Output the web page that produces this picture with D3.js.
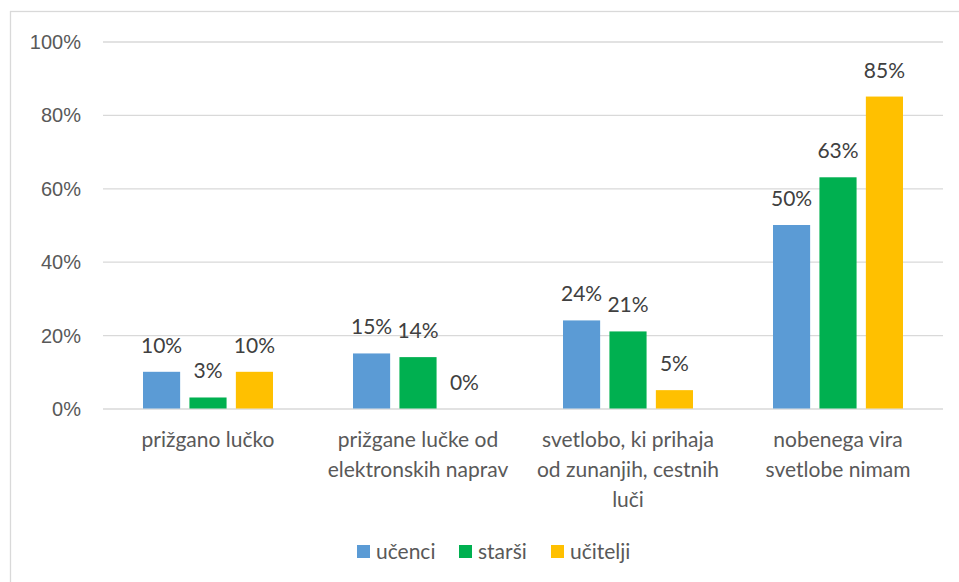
<!DOCTYPE html>
<meta charset="utf-8">
<style>
body { margin: 0; background: #fff; }
svg { font-family: Lato, "Open Sans", sans-serif; }
.grid line { stroke: #d9d9d9; stroke-width: 1.3px; }
.tick text { fill: #595959; font-size: 20px; }
.lbl { fill: #404040; font-size: 21px; text-anchor: middle; }
.cat { fill: #595959; font-size: 21px; text-anchor: middle; }
.leg { fill: #595959; font-size: 21px; }
</style>
<body>
<svg width="959" height="582"></svg>
</body>
<script src="https://d3js.org/d3.v7.min.js"></script>
<script>

// categories (wrapped like in the original)
var categories = ["prižgano lučko", "prižgane lučke od elektronskih naprav", "svetlobo, ki prihaja od zunanjih, cestnih luči", "nobenega vira svetlobe nimam"];
var catLines = [
  ["prižgano lučko"],
  ["prižgane lučke od", "elektronskih naprav"],
  ["svetlobo, ki prihaja", "od zunanjih, cestnih", "luči"],
  ["nobenega vira", "svetlobe nimam"]
];
var seriesNames = ["učenci", "starši", "učitelji"];
var ucenci = [0.10, 0.15, 0.24, 0.50];
var starsi = [0.03, 0.14, 0.21, 0.63];
var ucitelji = [0.10, 0.00, 0.05, 0.85];
var colors = ["#5b9bd5", "#00b050", "#ffc000"];
var yTicks = [0, 0.2, 0.4, 0.6, 0.8, 1];

var values = [ucenci, starsi, ucitelji];

var svg = d3.select("svg");

// chart frame
svg.append("rect")
  .attr("x", 10.5).attr("y", 11.5)
  .attr("width", 1000).attr("height", 1000)
  .attr("fill", "none")
  .attr("stroke", "#d9d9d9")
  .attr("stroke-width", 1.3);

var x = d3.scaleBand().domain(categories).range([103, 943]);
var y = d3.scaleLinear().domain([0, 1]).range([408.5, 41.5]);
var xs = d3.scaleBand().domain(seriesNames).range([0, 130]).paddingInner(0.2);

// gridlines + y labels
var yAxis = svg.append("g")
  .attr("class", "grid")
  .attr("transform", "translate(103,0)")
  .call(d3.axisLeft(y).tickValues(yTicks).tickFormat(d3.format(".0%")).tickSize(-840).tickPadding(22));
yAxis.select(".domain").remove();
yAxis.selectAll(".tick text").attr("dy", "0.35em");

// bars
var groups = svg.selectAll(".grp")
  .data(categories)
  .enter().append("g")
    .attr("class", "grp")
    .attr("transform", function(d) { return "translate(" + (x(d) + x.bandwidth() / 2 - 65) + ",0)"; });

groups.each(function(c, i) {
  var g = d3.select(this);
  var rows = seriesNames.map(function(s, k) { return { s: s, v: values[k][i], k: k }; });
  g.selectAll("rect")
    .data(rows)
    .enter().append("rect")
      .attr("x", function(d) { return xs(d.s); })
      .attr("y", function(d) { return y(d.v); })
      .attr("width", xs.bandwidth())
      .attr("height", function(d) { return y(0) - y(d.v); })
      .attr("fill", function(d) { return colors[d.k]; });
  g.selectAll("text")
    .data(rows)
    .enter().append("text")
      .attr("class", "lbl")
      .attr("x", function(d) { return xs(d.s) + xs.bandwidth() / 2; })
      .attr("y", function(d) { return y(d.v) - 19; })
      .text(function(d) { return d3.format(".0%")(d.v); });
});

// category labels
svg.selectAll(".cat")
  .data(categories)
  .enter().append("text")
    .attr("class", "cat")
    .attr("x", function(d) { return x(d) + x.bandwidth() / 2; })
    .attr("y", 447)
    .each(function(d, i) {
      var t = d3.select(this);
      catLines[i].forEach(function(line, j) {
        t.append("tspan")
          .attr("x", x(d) + x.bandwidth() / 2)
          .attr("dy", j === 0 ? 0 : 30)
          .text(line);
      });
    });

// legend
var legX = [357, 459, 551];
var leg = svg.selectAll(".legi")
  .data(seriesNames)
  .enter().append("g")
    .attr("class", "legi")
    .attr("transform", function(d, i) { return "translate(" + legX[i] + ",545)"; });
leg.append("rect")
  .attr("width", 13).attr("height", 13)
  .attr("fill", function(d, i) { return colors[i]; });
leg.append("text")
  .attr("class", "leg")
  .attr("x", 19).attr("y", 14)
  .text(function(d) { return d; });

</script>
